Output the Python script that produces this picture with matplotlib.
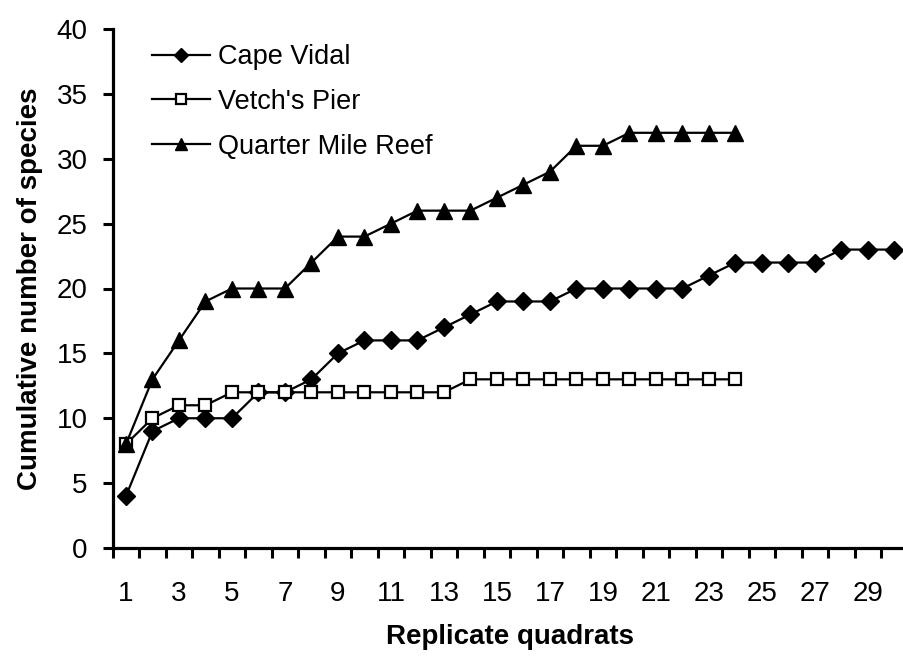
import matplotlib
matplotlib.use("Agg")
import matplotlib.pyplot as plt
from matplotlib.ticker import FixedLocator

plt.rcParams['font.family'] = ['Liberation Sans', 'DejaVu Sans']

quadrats = list(range(1, 31))
cape_vidal = [4, 9, 10, 10, 10, 12, 12, 13, 15, 16, 16, 16, 17, 18, 19, 19, 19, 20, 20, 20,
              20, 20, 21, 22, 22, 22, 22, 23, 23, 23]
vetchs_pier = [8, 10, 11, 11, 12, 12, 12, 12, 12, 12, 12, 12, 12, 13, 13, 13, 13, 13, 13, 13,
               13, 13, 13, 13]
quarter_mile = [8, 13, 16, 19, 20, 20, 20, 22, 24, 24, 25, 26, 26, 26, 27, 28, 29, 31, 31, 32,
                32, 32, 32, 32]
x_tick_labels = [str(v) for v in range(1, 30, 2)]
y_ticks = list(range(0, 41, 5))

W, H = 904, 658
fig = plt.figure(figsize=(W / 100, H / 100), dpi=100)
left, right, bottom_px, top_px = 112.7, 907.7, 548, 29
ax = fig.add_axes([left / W, 1 - bottom_px / H, (right - left) / W, (bottom_px - top_px) / H])

lw = 1.6
ax.plot(quadrats, cape_vidal, color='black', lw=lw, marker='D', ms=9.5,
        mfc='black', mec='black', label='Cape Vidal', clip_on=False, zorder=3)
ax.plot(quadrats[:len(vetchs_pier)], vetchs_pier, color='black', lw=lw, marker='s', ms=9,
        mfc='white', mec='black', mew=1.6, label="Vetch's Pier", clip_on=False, zorder=3)
ax.plot(quadrats[:len(quarter_mile)], quarter_mile, color='black', lw=lw, marker='^', ms=12,
        mfc='black', mec='black', label='Quarter Mile Reef', clip_on=False, zorder=3)

ax.set_xlim(0.5, 30.5)
ax.set_ylim(0, 40)

for s in ['top', 'right']:
    ax.spines[s].set_visible(False)
for s in ['left', 'bottom']:
    ax.spines[s].set_linewidth(2.3)

ax.xaxis.set_major_locator(FixedLocator(list(range(1, 30, 2))))
ax.set_xticklabels(x_tick_labels)
ax.xaxis.set_minor_locator(FixedLocator([k + 0.5 for k in range(0, 31)]))
ax.tick_params(axis='x', which='major', length=0, pad=24, labelsize=20)
ax.tick_params(axis='x', which='minor', length=7, width=2.2, direction='out')
ax.set_yticks(y_ticks)
ax.tick_params(axis='y', which='major', length=7, width=2.2, direction='out',
               pad=11, labelsize=20)

ax.set_xlabel('Replicate quadrats', fontsize=20, fontweight='bold', labelpad=12)
ax.set_ylabel('Cumulative number of species', fontsize=20, fontweight='bold', labelpad=10)

leg = ax.legend(loc='upper left', bbox_to_anchor=(152 / W, 1 - 44 / H),
                bbox_transform=fig.transFigure, frameon=False, fontsize=19.5,
                handlelength=2.15, handletextpad=0.3, labelspacing=0.7,
                borderpad=0, borderaxespad=0, markerscale=0.75)

fig.savefig('out.png', dpi=100)
